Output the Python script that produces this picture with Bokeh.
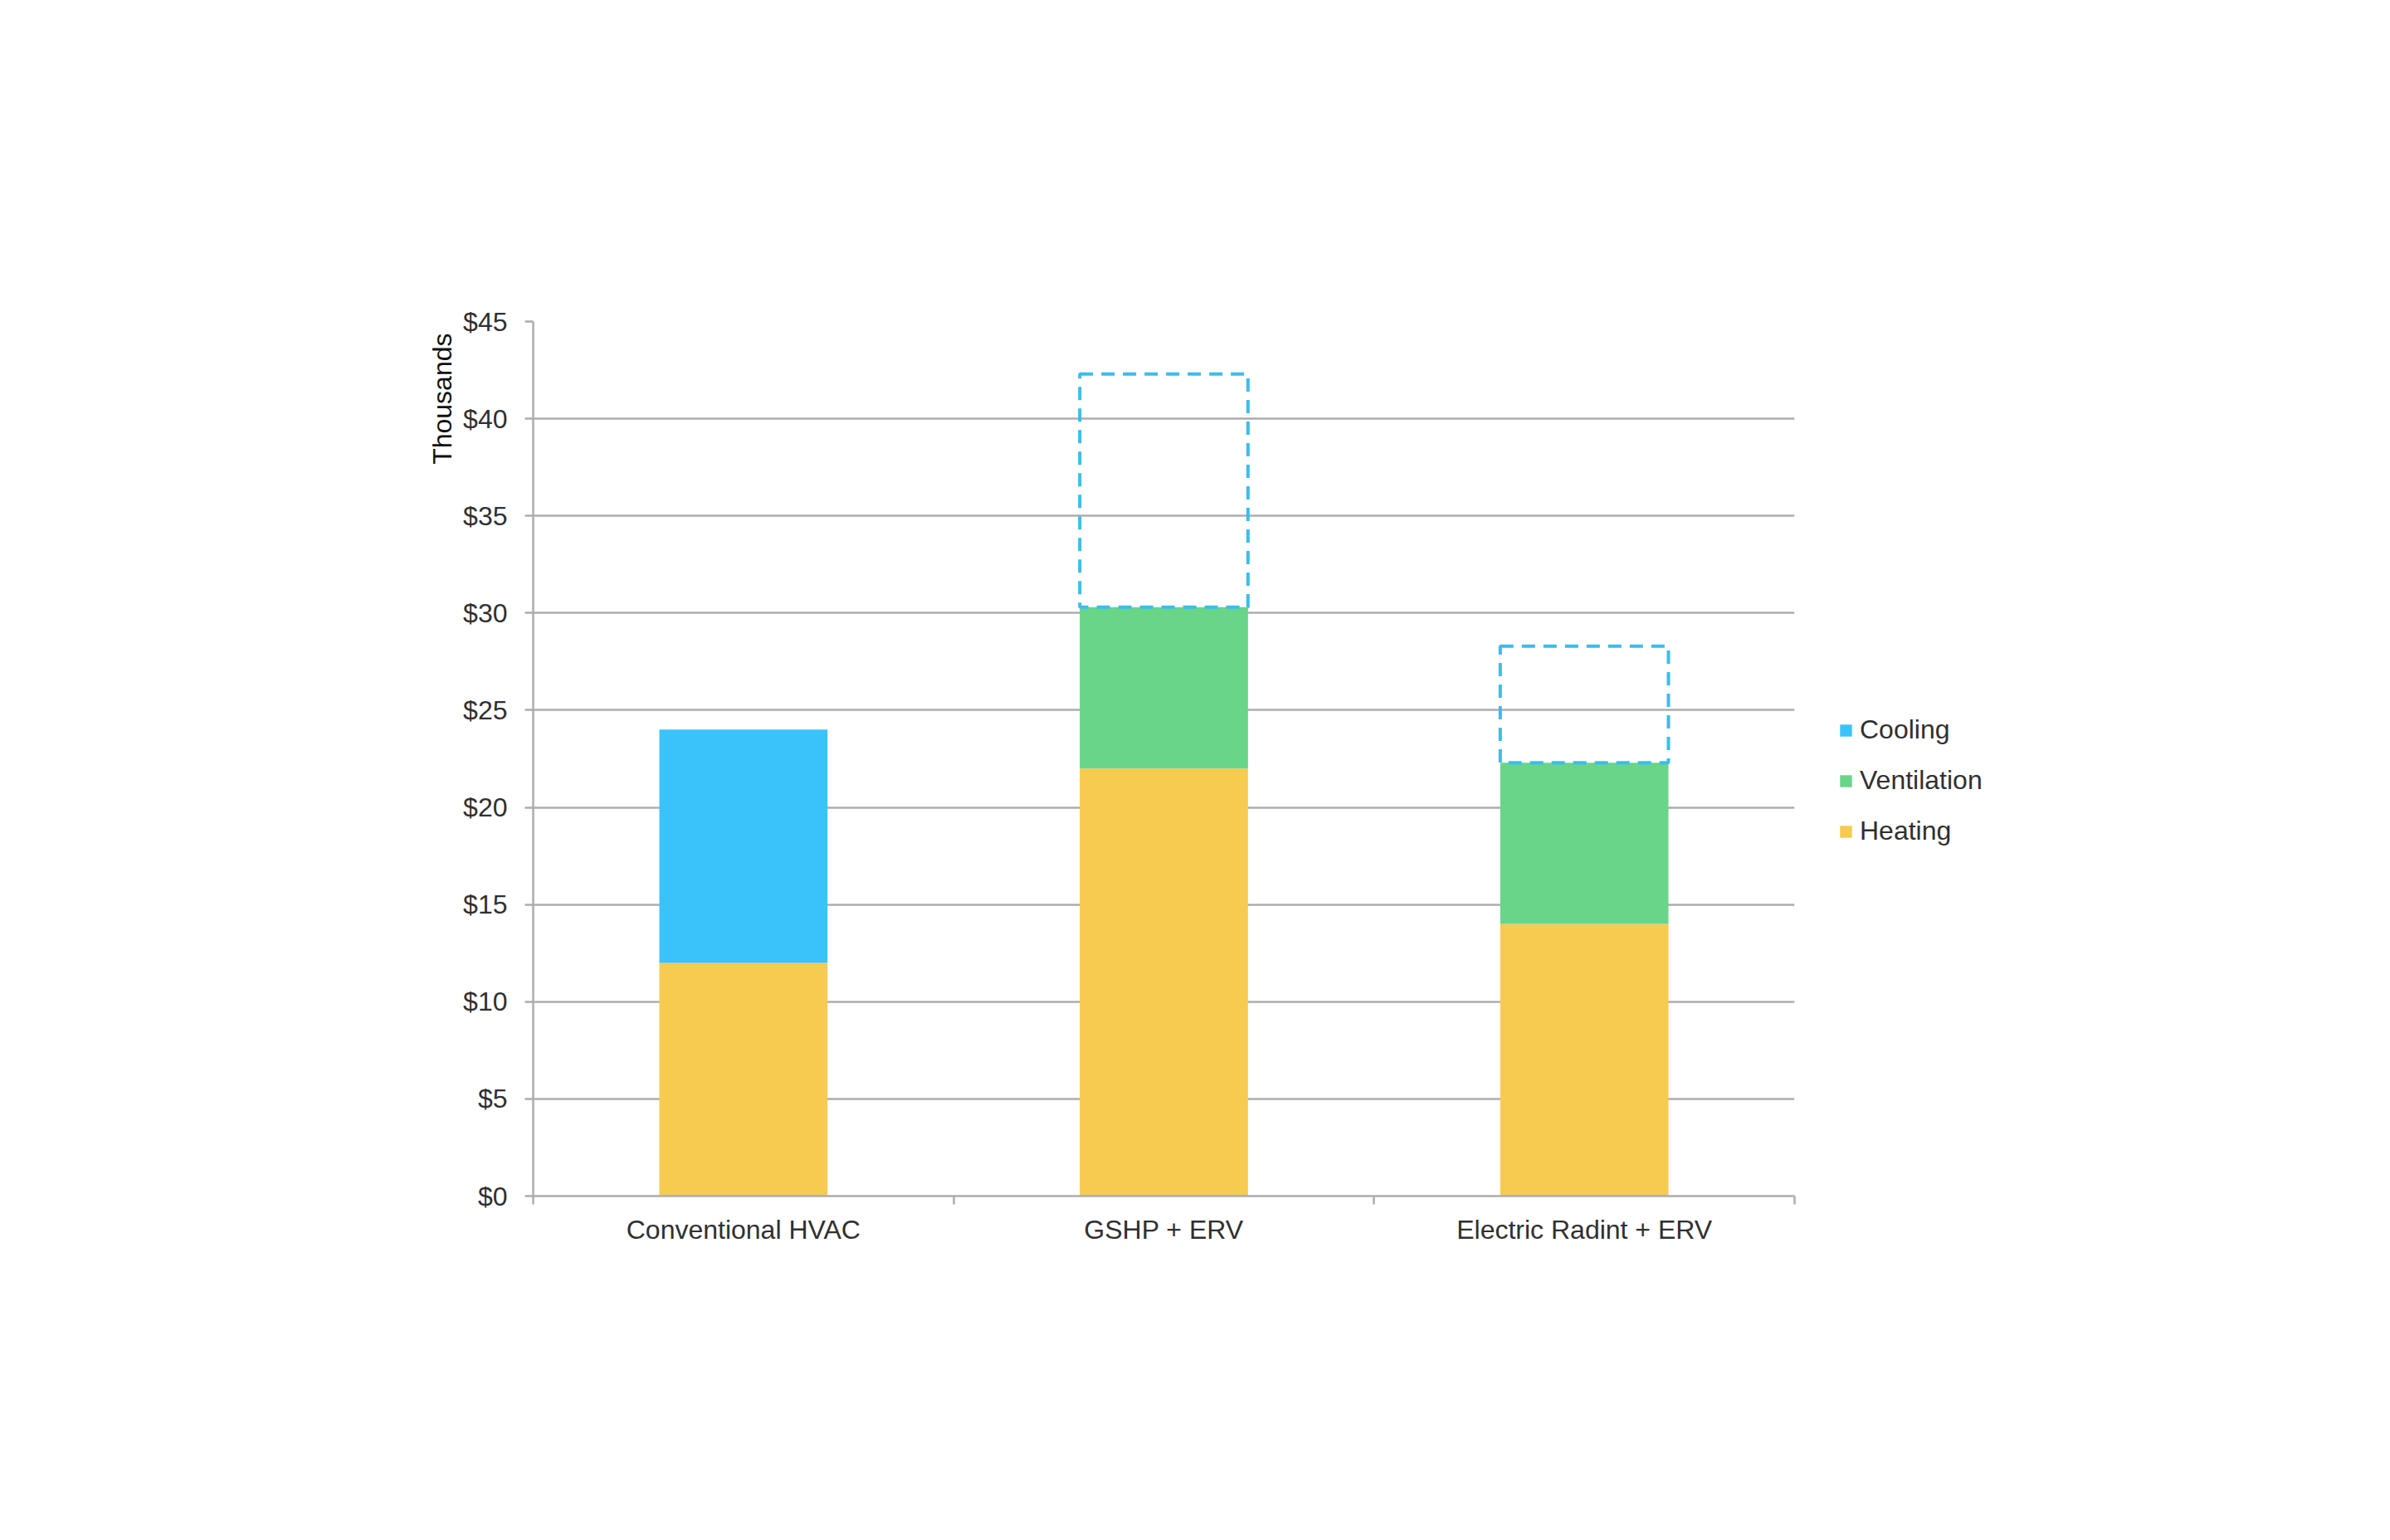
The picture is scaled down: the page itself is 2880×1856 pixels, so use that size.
from bokeh.plotting import figure
from bokeh.models import (Range1d, FixedTicker, PrintfTickFormatter, Legend, LegendItem,
                          Title, ColumnDataSource)
from bokeh.embed import file_html
from bokeh.resources import INLINE

# ---- data (thousands of dollars) ----
categories = ["Conventional HVAC", "GSHP + ERV", "Electric Radint + ERV"]
heating = [12, 22, 14]
ventilation = [0, 8.3, 8.3]
cooling = [12, 0, 0]
cooling_dashed = [0, 12, 6]
y_ticks = [0, 5, 10, 15, 20, 25, 30, 35, 40, 45]

# colours
C_HEAT = "#F7CA50"
C_VENT = "#68D589"
C_COOL = "#3AC3FA"
C_DASH = "#3BBDEC"
GRID = "#ADADAD"
TXT = "#303030"
FONT = "Liberation Sans"

x = [i + 0.5 for i in range(len(categories))]
h_top = list(heating)
v_top = [h + v for h, v in zip(h_top, ventilation)]
c_top = [t + c for t, c in zip(v_top, cooling)]
d_top = [t + d for t, d in zip(c_top, cooling_dashed)]

src = ColumnDataSource(dict(x=x, h_top=h_top, v_top=v_top, c_top=c_top))
dsel = [i for i, d in enumerate(cooling_dashed) if d > 0]
dsrc = ColumnDataSource(dict(x=[x[i] for i in dsel], bottom=[c_top[i] for i in dsel],
                             top=[d_top[i] for i in dsel]))

p = figure(width=2864, height=1840, x_range=Range1d(0, len(categories)), y_range=Range1d(0, 45),
           output_backend="svg", toolbar_location=None,
           min_border_left=642, min_border_right=702, min_border_top=387, min_border_bottom=399)
p.outline_line_color = None
p.background_fill_color = "white"
p.border_fill_color = "white"

BW = 0.4
r_heat = p.vbar(x="x", width=BW, bottom=0, top="h_top", source=src, fill_color=C_HEAT, line_color=None)
r_vent = p.vbar(x="x", width=BW, bottom="h_top", top="v_top", source=src, fill_color=C_VENT, line_color=None)
r_cool = p.vbar(x="x", width=BW, bottom="v_top", top="c_top", source=src, fill_color=C_COOL, line_color=None)
p.vbar(x="x", width=BW, bottom="bottom", top="top", source=dsrc, fill_color=None,
       line_color=C_DASH, line_width=4, line_dash="16 10")

# axes
p.xgrid.visible = False
p.ygrid.grid_line_color = GRID
p.ygrid.grid_line_width = 2.5
p.ygrid.ticker = FixedTicker(ticks=y_ticks)

yax = p.yaxis[0]
yax.ticker = FixedTicker(ticks=y_ticks)
yax.formatter = PrintfTickFormatter(format="$%d")
yax.axis_line_color = GRID
yax.axis_line_width = 2.5
yax.major_tick_line_color = GRID
yax.major_tick_line_width = 2.5
yax.major_tick_out = 10
yax.major_tick_in = 0
yax.minor_tick_line_color = None
yax.major_label_standoff = 21
yax.major_label_text_font = FONT
yax.major_label_text_font_size = "32px"
yax.major_label_text_color = TXT

xax = p.xaxis[0]
xax.ticker = FixedTicker(ticks=x, minor_ticks=list(range(len(categories) + 1)))
xax.major_label_overrides = {xv: c for xv, c in zip(x, categories)}
xax.axis_line_color = GRID
xax.axis_line_width = 2.5
xax.major_tick_line_color = None
xax.minor_tick_line_color = GRID
xax.minor_tick_line_width = 2.5
xax.minor_tick_out = 10
xax.minor_tick_in = 0
xax.major_label_standoff = 12
xax.major_label_text_font = FONT
xax.major_label_text_font_size = "32px"
xax.major_label_text_color = TXT

p.add_layout(Title(text="Thousands", align="right", text_font=FONT, text_font_size="32px",
                   text_font_style="normal", text_color="#111111", offset=14), "left")

legend = Legend(items=[LegendItem(label="Cooling", renderers=[r_cool]),
                       LegendItem(label="Ventilation", renderers=[r_vent]),
                       LegendItem(label="Heating", renderers=[r_heat])],
                location=(53, 421), orientation="vertical",
                label_text_font=FONT, label_text_font_size="32px", label_text_color=TXT,
                glyph_width=18, glyph_height=18, label_standoff=8, label_height=30,
                spacing=24, padding=0, margin=0,
                border_line_color=None, background_fill_alpha=0)
p.add_layout(legend, "right")

open("out.html", "w").write(file_html(p, INLINE))
